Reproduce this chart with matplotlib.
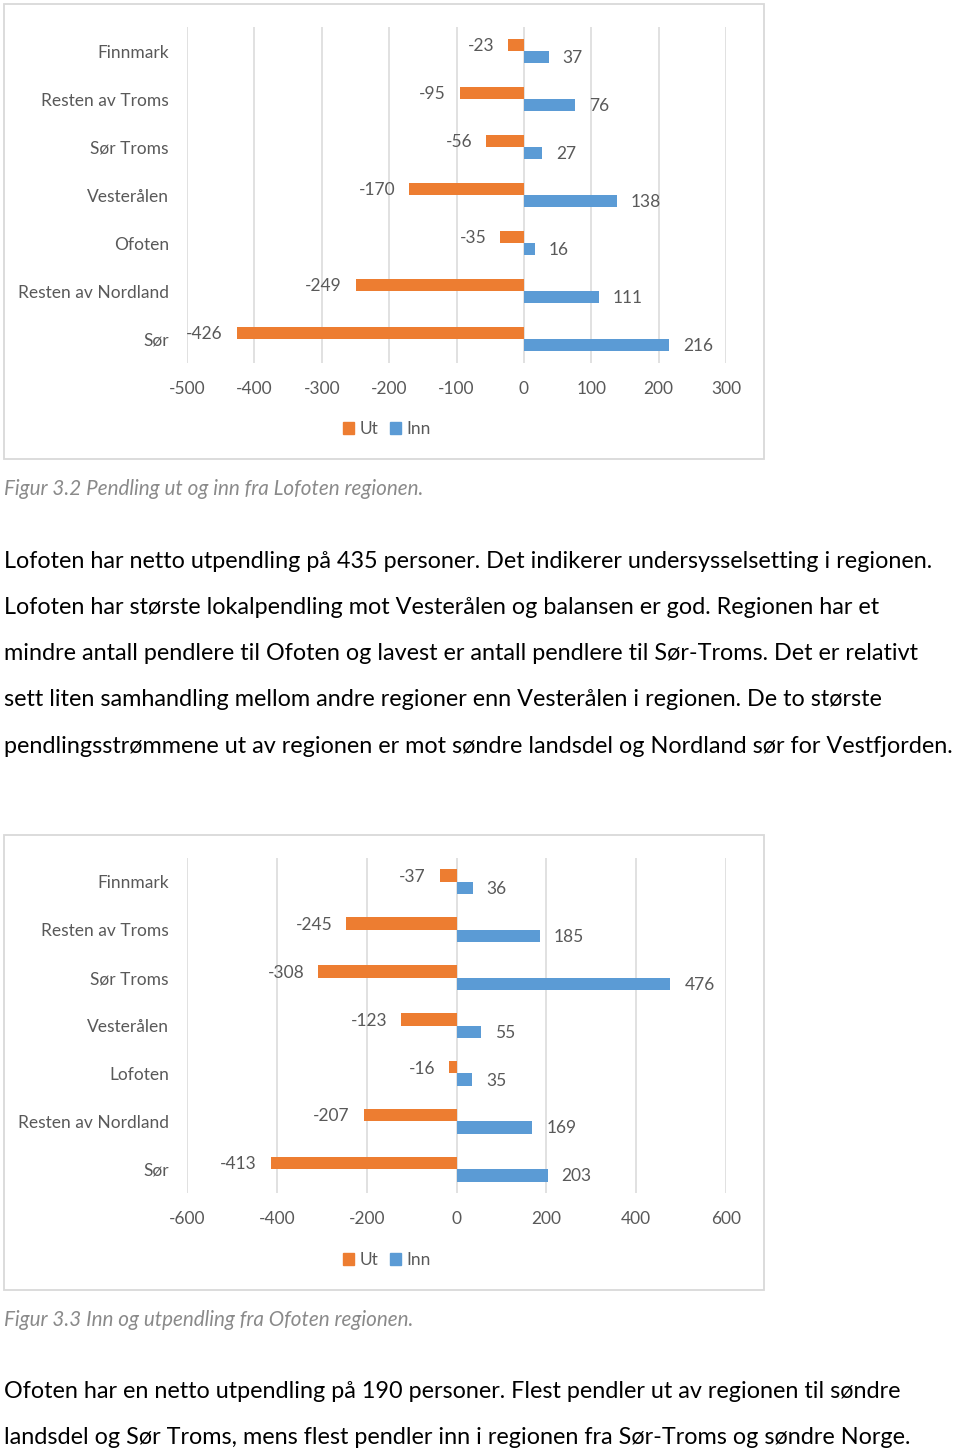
import numpy as np
import matplotlib
matplotlib.use('Agg')
import matplotlib.pyplot as plt
from matplotlib.patches import Rectangle, Patch

plt.rcParams['font.family'] = ['Lato', 'DejaVu Sans']

# ---------------- data ----------------
categories1 = ['Finnmark', 'Resten av Troms', 'Sør Troms', 'Vesterålen', 'Ofoten',
               'Resten av Nordland', 'Sør']
ut1 = [-23, -95, -56, -170, -35, -249, -426]
inn1 = [37, 76, 27, 138, 16, 111, 216]
ticks1 = [-500, -400, -300, -200, -100, 0, 100, 200, 300]

categories2 = ['Finnmark', 'Resten av Troms', 'Sør Troms', 'Vesterålen', 'Lofoten',
               'Resten av Nordland', 'Sør']
ut2 = [-37, -245, -308, -123, -16, -207, -413]
inn2 = [36, 185, 476, 55, 35, 169, 203]
ticks2 = [-600, -400, -200, 0, 200, 400, 600]

series_names = ['Ut', 'Inn']

caption1 = 'Figur 3.2 Pendling ut og inn fra Lofoten regionen.'
para1 = [
    'Lofoten har netto utpendling på 435 personer. Det indikerer undersysselsetting i regionen.',
    'Lofoten har største lokalpendling mot Vesterålen og balansen er god. Regionen har et',
    'mindre antall pendlere til Ofoten og lavest er antall pendlere til Sør-Troms. Det er relativt',
    'sett liten samhandling mellom andre regioner enn Vesterålen i regionen. De to største',
    'pendlingsstrømmene ut av regionen er mot søndre landsdel og Nordland sør for Vestfjorden.',
]
caption2 = 'Figur 3.3 Inn og utpendling fra Ofoten regionen.'
para2 = [
    'Ofoten har en netto utpendling på 190 personer. Flest pendler ut av regionen til søndre',
    'landsdel og Sør Troms, mens flest pendler inn i regionen fra Sør-Troms og søndre Norge.',
]

# ---------------- style ----------------
W, H = 960, 1450
ORANGE = '#ED7D31'
BLUE = '#5B9BD5'
GRAY = '#595959'
GRID = '#D9D9D9'
CAPGRAY = '#8a8a8a'

fig = plt.figure(figsize=(W / 100, H / 100), dpi=100)
renderer = fig.canvas.get_renderer()


def fx(px):
    return px / W


def fy(py):
    return 1 - py / H


def draw_chart(cats, ut, inn, ticks, box, ax_top, ax_bottom, legend_y):
    bx0, by0, bx1, by1 = box
    fig.add_artist(Rectangle((fx(bx0), fy(by1)), (bx1 - bx0) / W, (by1 - by0) / H,
                             transform=fig.transFigure, fill=False,
                             edgecolor=GRID, lw=1.3))
    ax = fig.add_axes([fx(187), fy(ax_bottom), (726 - 187) / W, (ax_bottom - ax_top) / H])
    n = len(cats)
    y = np.arange(n)
    h = 0.26
    ax.barh(y - h / 2, ut, height=h, color=ORANGE, zorder=3)
    ax.barh(y + h / 2, inn, height=h, color=BLUE, zorder=3)
    ax.set_ylim(n - 0.5, -0.5)
    ax.set_xlim(ticks[0], ticks[-1])
    ax.set_xticks(ticks)
    ax.set_xticklabels([str(t) for t in ticks])
    ax.set_yticks(y)
    ax.set_yticklabels(cats)
    ax.tick_params(axis='both', length=0, colors=GRAY, labelsize=12.5)
    ax.tick_params(axis='x', pad=13)
    ax.tick_params(axis='y', pad=13)
    ax.grid(axis='x', color=GRID, lw=1.1)
    ax.set_axisbelow(True)
    for s in ax.spines.values():
        s.set_visible(False)
    for i, v in enumerate(ut):
        ax.annotate(str(v), xy=(v, i - h / 2), xytext=(-14, -1.5), textcoords='offset pixels',
                    ha='right', va='center', color=GRAY, fontsize=12.5)
    for i, v in enumerate(inn):
        ax.annotate(str(v), xy=(v, i + h / 2), xytext=(14, -1), textcoords='offset pixels',
                    ha='left', va='center', color=GRAY, fontsize=12.5)
    handles = [Patch(color=ORANGE, label=series_names[0]),
               Patch(color=BLUE, label=series_names[1])]
    fig.legend(handles=handles, loc='center', bbox_to_anchor=(fx(387), fy(legend_y)),
               bbox_transform=fig.transFigure, ncol=2, frameon=False, fontsize=12.5,
               handlelength=0.62, handleheight=0.62, handletextpad=0.3,
               columnspacing=0.7, labelcolor=GRAY)
    return ax


def fit_size(text, target_w, **kw):
    t = fig.text(0, 0, text, fontsize=20, **kw)
    w = t.get_window_extent(renderer).width
    t.remove()
    return 20 * target_w / w


draw_chart(categories1, ut1, inn1, ticks1, (4, 4, 764, 459), 27, 363, 429)
draw_chart(categories2, ut2, inn2, ticks2, (4, 835, 764, 1290), 858, 1193, 1260)

# captions
cs = fit_size(caption1, 418, style='italic')
fig.text(fx(4), fy(489), caption1, style='italic', color=CAPGRAY, fontsize=cs, va='center')
fig.text(fx(4), fy(1320), caption2, style='italic', color=CAPGRAY, fontsize=cs, va='center')

# paragraphs
ps = fit_size(para1[0], 931)
for k, line in enumerate(para1):
    fig.text(fx(4), fy(561 + k * 46.3), line, color='black', fontsize=ps, va='center')
for k, line in enumerate(para2):
    fig.text(fx(4), fy(1391 + k * 46.5), line, color='black', fontsize=ps, va='center')

fig.savefig('out.png', dpi=100, facecolor='white')
